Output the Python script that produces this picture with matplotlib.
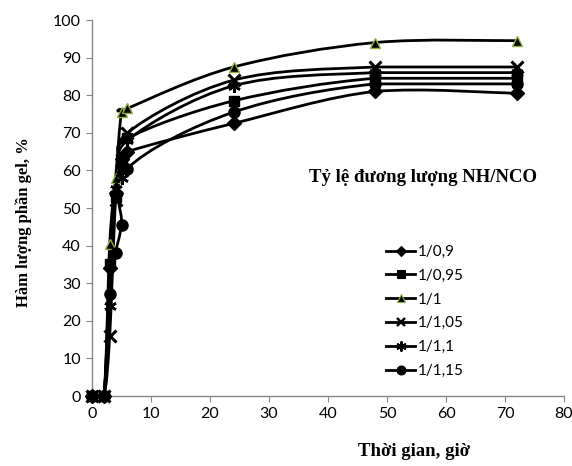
import numpy as np
import matplotlib
matplotlib.use("Agg")
import matplotlib.pyplot as plt
from matplotlib.path import Path
from matplotlib.patches import PathPatch
from matplotlib.lines import Line2D

# ---- data ----
time_h = [0, 2, 3, 4, 5, 6, 24, 48, 72]
s_09 = [0, 0, 34, 54, 63, 65, 72.5, 81, 80.5]
s_095 = [0, 0, 35, 53, 62, 68.5, 78.5, 84.5, 84.5]
s_1 = [0, 0, 40.5, 58, 75.5, 76.5, 87.5, 94, 94.5]
s_105 = [0, 0, 16, 52, 60, 70, 84, 87.5, 87.5]
s_11 = [0, 0, 24, 55, 58, 68, 82.5, 86, 86]
s_115 = [0, 0, 27, 38, 45.5, 60.5, 75.5, 83, 83]
labels = ["1/0,9", "1/0,95", "1/1", "1/1,05", "1/1,1", "1/1,15"]
xticks = list(range(0, 81, 10))
yticks = list(range(0, 101, 10))

series = [s_09, s_095, s_1, s_105, s_11, s_115]
styles = [
    dict(marker="D", ms=7, mfc="black", mec="black", mew=1),
    dict(marker="s", ms=6.5, mfc="black", mec="black", mew=1),
    dict(marker="^", ms=7.5, mfc="black", mec="#8FB040", mew=1),
    dict(marker="x", ms=8, mfc="black", mec="black", mew=2.2),
    dict(marker=(6, 2, 0), ms=9, mfc="black", mec="black", mew=1.8),
    dict(marker="o", ms=8, mfc="black", mec="black", mew=1),
]

W, H = 572, 466
fig = plt.figure(figsize=(W / 100, H / 100), dpi=100)
ax = fig.add_axes([92 / W, 1 - 396 / H, (564 - 92) / W, (396 - 20) / H])
ax.set_xlim(0, 80)
ax.set_ylim(0, 100)

sx = 472 / 80.0
sy = 376 / 100.0


def smooth_path(x, y):
    px = np.array(x, float) * sx
    py = np.array(y, float) * sy
    n = len(px)
    verts = [(px[0], py[0])]
    codes = [Path.MOVETO]
    for i in range(n - 1):
        p0 = np.array([px[max(i - 1, 0)], py[max(i - 1, 0)]])
        p1 = np.array([px[i], py[i]])
        p2 = np.array([px[i + 1], py[i + 1]])
        p3 = np.array([px[min(i + 2, n - 1)], py[min(i + 2, n - 1)]])
        c1 = p1 + (p2 - p0) / 6.0
        c2 = p2 - (p3 - p1) / 6.0
        lo, hi = min(p1[1], p2[1]), max(p1[1], p2[1])
        if hi - lo < 1e-9:
            c1[1] = p1[1]
            c2[1] = p2[1]
        c1[1] = np.clip(c1[1], lo - 4, hi + 4)
        c2[1] = np.clip(c2[1], lo - 4, hi + 4)
        verts += [tuple(c1), tuple(c2), tuple(p2)]
        codes += [Path.CURVE4] * 3
    verts = [(vx / sx, vy / sy) for vx, vy in verts]
    return Path(verts, codes)


for ys, st in zip(series, styles):
    patch = PathPatch(smooth_path(time_h, ys), facecolor="none", edgecolor="black",
                      lw=2.0, zorder=2, clip_on=False)
    ax.add_patch(patch)
    ax.plot(time_h, ys, linestyle="none", zorder=3, clip_on=False, **st)

for s in ["top", "right"]:
    ax.spines[s].set_visible(False)
for s in ["left", "bottom"]:
    ax.spines[s].set_color("#868686")
    ax.spines[s].set_linewidth(1.0)
ax.set_xticks(xticks)
ax.set_yticks(yticks)
ax.tick_params(direction="out", length=4, color="#868686", labelsize=11.5, pad=4)
for lab in ax.get_xticklabels() + ax.get_yticklabels():
    lab.set_fontfamily("Lato")

fig.text(24 / W, 1 - 222 / H, "Hàm lượng phần gel, %", rotation=90, ha="center", va="center",
         family="Liberation Serif", weight="bold", fontsize=12)
fig.text(414 / W, 1 - 451 / H, "Thời gian, giờ", ha="center", va="center",
         family="Liberation Serif", weight="bold", fontsize=13.5)
fig.text(423 / W, 1 - 178 / H, "Tỷ lệ đương lượng NH/NCO", ha="center", va="center",
         family="Liberation Serif", weight="bold", fontsize=13.5)

handles = [Line2D([], [], color="black", lw=2.0, marker=st["marker"], ms=st["ms"] * 0.8,
                  mfc=st["mfc"], mec=st["mec"], mew=st["mew"] * 0.8) for st in styles]
leg = fig.legend(handles, labels, loc="upper left", bbox_to_anchor=(386 / W, 1 - 245 / H),
                 frameon=False, prop=dict(family="Lato", size=11), handlelength=1.9,
                 handletextpad=0.15, labelspacing=0.64, borderaxespad=0, borderpad=0)

fig.savefig("out.png", dpi=100)
